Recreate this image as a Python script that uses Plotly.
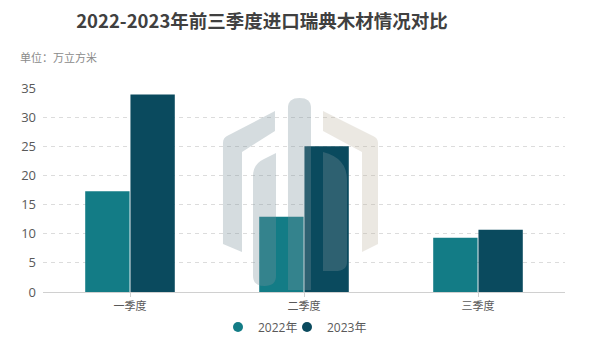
import plotly.graph_objects as go

categories = ["一季度", "二季度", "三季度"]
values_2022 = [17.3, 12.9, 9.3]
values_2023 = [33.9, 25.0, 10.7]
series_names = ["2022年", "2023年"]
colors = ["#137c86", "#0a4a5e"]
y_ticks = [0, 5, 10, 15, 20, 25, 30, 35]

FONT = "Open Sans, Noto Sans CJK SC, sans-serif"
CJK = "Noto Sans CJK SC, sans-serif"

# plot area in page pixels (page has an 8px body margin)
PX0, PX1, PY0, PY1 = 43, 565, 88, 292


def PXc(x):
    return (x - PX0) / (PX1 - PX0)


def P(x, y):
    return f"{(x - PX0) / (PX1 - PX0):.4f},{(PY1 - y) / (PY1 - PY0):.4f}"


def path(cmds):
    return " ".join(c if isinstance(c, str) else P(*c) for c in cmds)


fig = go.Figure()
for name, vals, col in zip(series_names, [values_2022, values_2023], colors):
    fig.add_trace(go.Bar(x=categories, y=vals, name=name, marker_color=col,
                         marker_line_width=0, showlegend=False))
legend_ids = ["legend", "legend2"]
for name, col, lg in zip(series_names, colors, legend_ids):
    fig.add_trace(go.Scatter(x=[None], y=[None], mode="markers", name=name, legend=lg,
                             marker=dict(symbol="circle", size=10, color=col)))

# decorative watermark logo
gray = "rgba(123,146,155,0.32)"
beige = "rgba(190,180,160,0.30)"
logo = [
    (gray, ["M", (288, 290), "L", (288, 108), "Q", (288, 98), (299.5, 98), "Q", (311, 98), (311, 108), "L", (311, 290), "Z"]),
    (gray, ["M", (275, 111), "L", (227, 136), "Q", (223, 138), (223, 143), "L", (223, 244), "L", (242, 252), "L", (242, 152), "L", (275, 131), "Z"]),
    (gray, ["M", (276, 153), "L", (276, 276), "Q", (276, 286), (264.5, 286), "Q", (253, 286), (253, 276), "L", (253, 176), "Q", (253, 164), (264, 159), "Z"]),
    (beige, ["M", (323, 111), "L", (373, 136), "Q", (378, 138), (378, 143), "L", (378, 244), "L", (362, 252), "L", (362, 152), "L", (323, 131), "Z"]),
    (gray, ["M", (323, 152), "Q", (347, 158), (347, 180), "L", (347, 262), "Q", (347, 271), (335, 271), "L", (323, 271), "Z"]),
]
shapes = [dict(type="path", xref="paper", yref="paper", path=path(p), fillcolor=c,
               line=dict(width=0), layer="above") for c, p in logo]

legend_style = dict(orientation="h", xref="paper", xanchor="left",
                    yref="container", y=1 - (327 - 8) / 359, yanchor="middle",
                    font=dict(size=12, color="#595959"), bgcolor="rgba(0,0,0,0)")

fig.update_layout(
    width=600, height=359,
    margin=dict(l=PX0 - 8, r=600 - PX1 + 8, t=PY0 - 8, b=359 - PY1 + 8, autoexpand=False),
    paper_bgcolor="white", plot_bgcolor="white",
    barmode="group", bargap=0.48, bargroupgap=0.02,
    font=dict(family=FONT, color="#595959", size=12),
    title=dict(text="<b>2022-2023年前三季度进口瑞典木材情况对比</b>",
               xref="container", x=(262 - 8) / 600, xanchor="center",
               yref="container", y=1 - (22 - 8) / 359, yanchor="middle",
               font=dict(size=18.5, color="#404040", family=CJK)),
    legend=dict(x=PXc(218), **legend_style),
    legend2=dict(x=PXc(287), **legend_style),
    annotations=[dict(text="单位：万立方米", xref="paper", yref="paper",
                      x=PXc(18), y=(PY1 - 57) / (PY1 - PY0),
                      xanchor="left", yanchor="middle", showarrow=False,
                      font=dict(size=11, color="#8a8a8a", family=CJK))],
    shapes=shapes,
)
fig.update_yaxes(range=[0, 35], tickvals=y_ticks, showgrid=True, gridcolor="#dcdcdc",
                 griddash="4px,4px", gridwidth=1, zeroline=False, showline=False,
                 automargin=False,
                 tickfont=dict(size=13, color="#595959"), ticklabelstandoff=6)
fig.update_xaxes(showline=True, linecolor="#d0d0d0", linewidth=1, ticks="outside",
                 ticklen=4, tickcolor="#d0d0d0", automargin=False,
                 tickfont=dict(size=11, color="#595959", family=CJK))

fig.write_html("out.html")
